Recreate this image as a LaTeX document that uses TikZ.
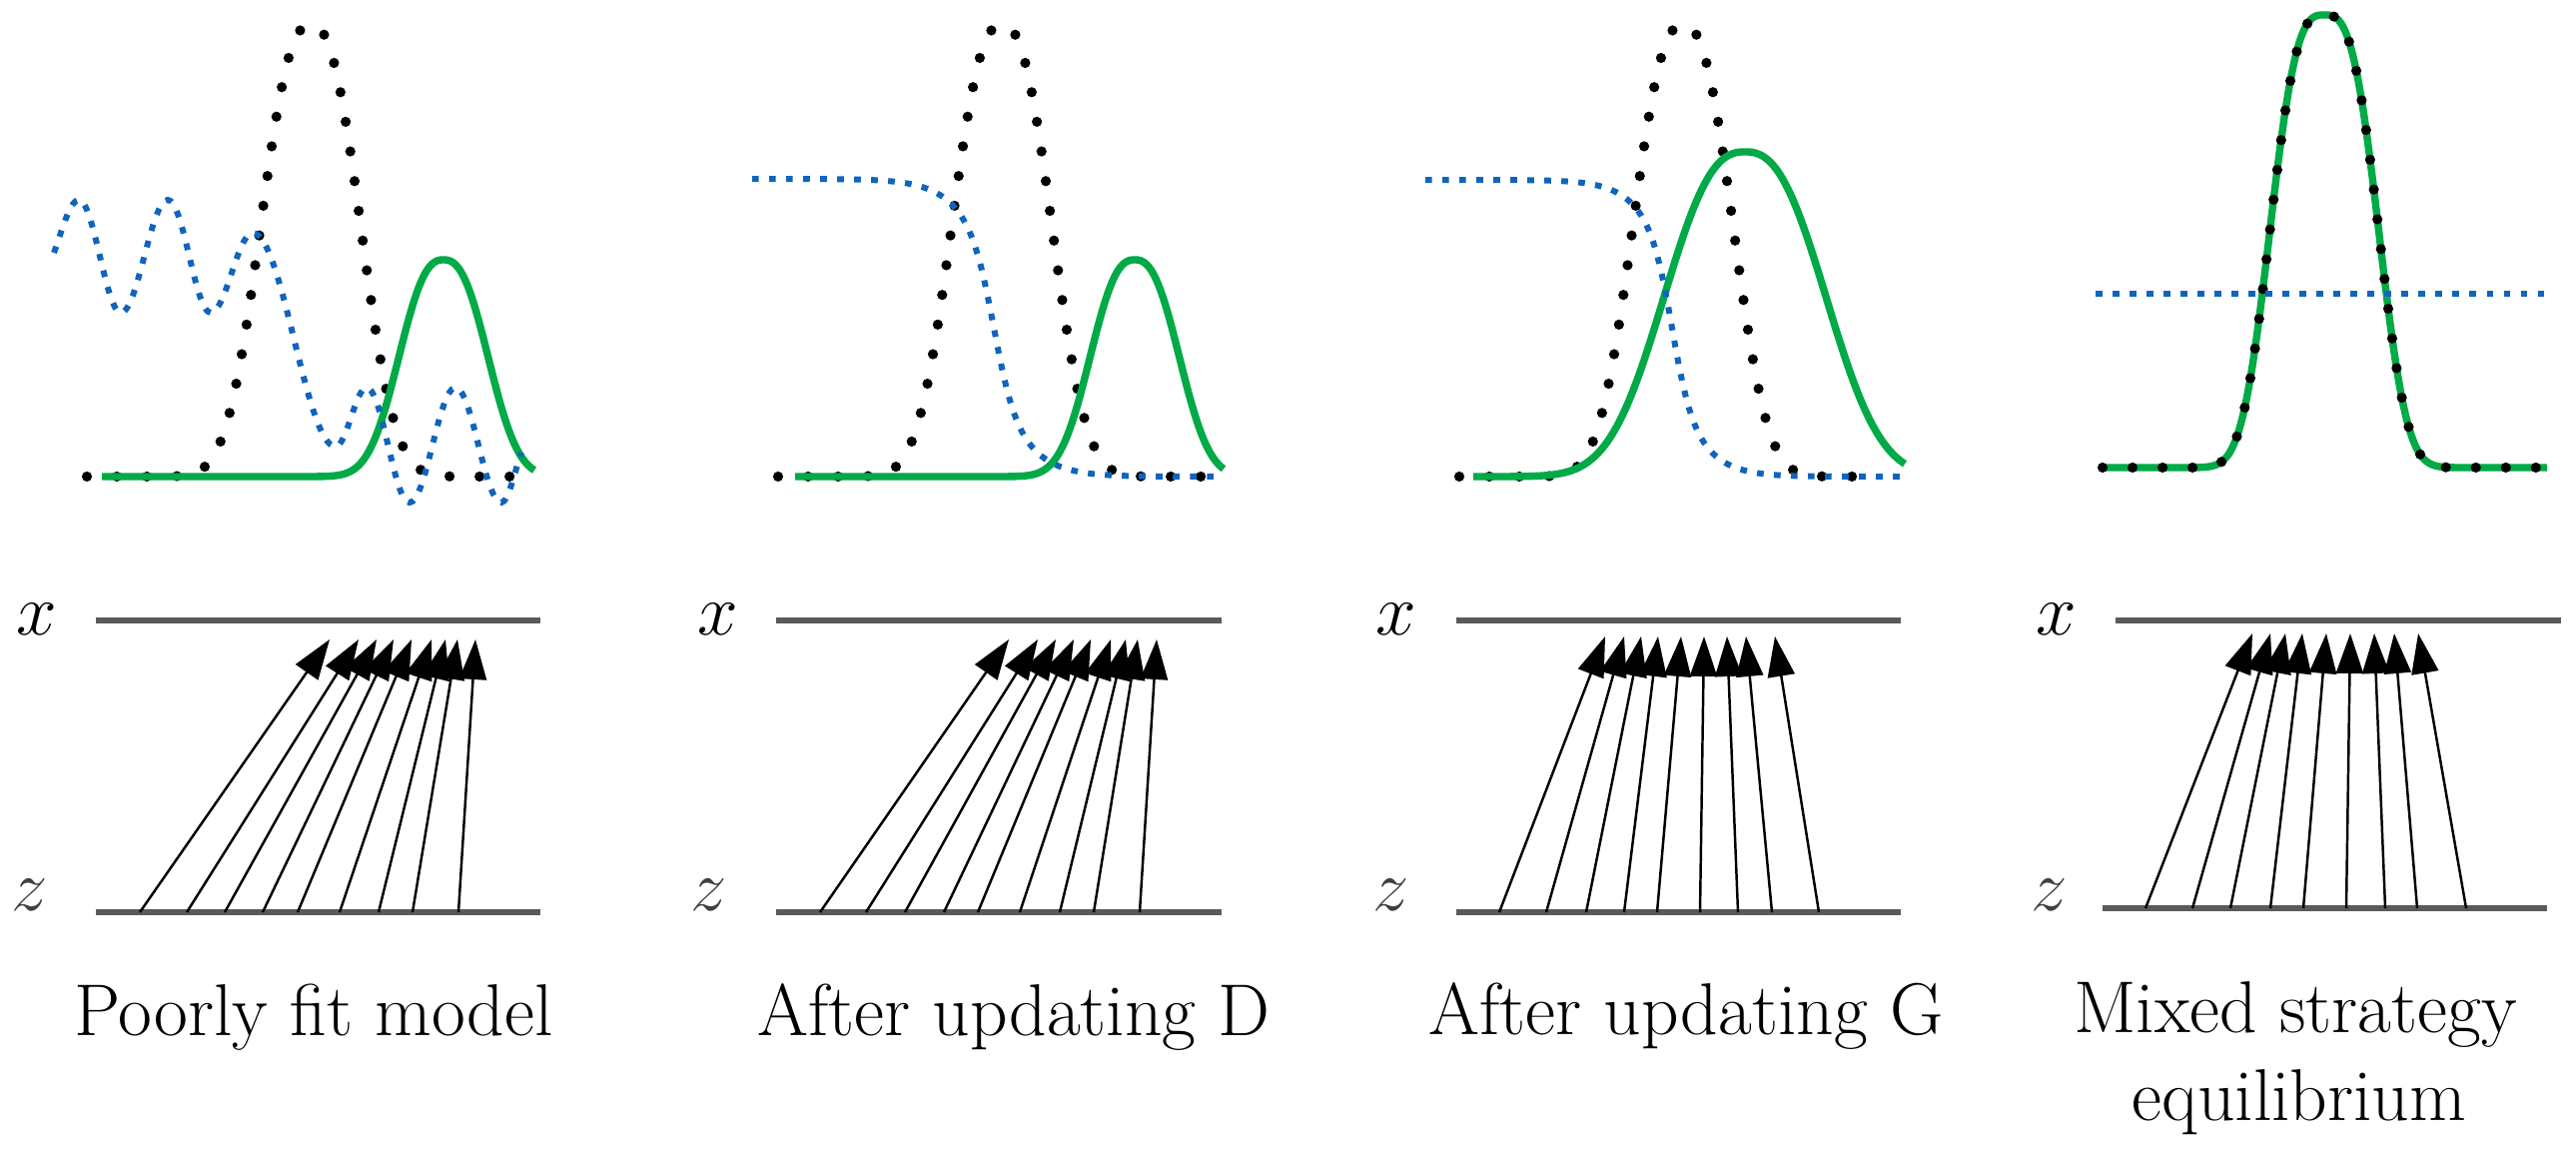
\documentclass[tikz,border=0pt]{standalone}
\usetikzlibrary{arrows.meta}
\definecolor{gblue}{RGB}{16,100,190}
\definecolor{ggreen}{RGB}{0,170,70}
\definecolor{axisgray}{RGB}{90,90,90}
\tikzset{
  declare function={sg(\t)=1/(1+exp(-max(min(\t,9),-9)));
                    bump(\u,\c,\s)=exp(-min(pow(abs(\u-\c)/\s,3),9));
                    bumpb(\u,\c,\s)=exp(-min(pow(abs(\u-\c)/\s,2.5),9));},
  blackdot/.style={black,line width=2.9pt,line cap=round,dash pattern=on 0pt off 8.54pt},
  bluedot/.style={gblue,line width=1.7pt,dash pattern=on 1.9pt off 2.94pt},
  greenline/.style={ggreen,line width=2.1pt},
  axisline/.style={axisgray,line width=1.6pt},
  genarrow/.style={black,line width=0.7pt,-{Triangle[length=0.4cm,width=0.27cm]}},
  lab/.style={inner sep=0pt,font=\fontsize{22}{26}\selectfont},
  caption/.style={inner sep=0pt,anchor=base,font=\fontsize{20.9}{25}\selectfont},
}
\begin{document}
\begin{tikzpicture}[x=0.01cm,y=-0.01cm]
\fill[white] (0,0) rectangle (2579,1157);
\useasboundingbox (0,0) rectangle (2579,1157);

% ---------- Panel 1 ----------
\draw[blackdot] plot[domain=87:512,samples=171] (\x,{477-452*bumpb(\x,311,62)});
\draw[greenline] plot[domain=102:535,samples=171] (\x,{477-217*bumpb(\x,444,55)});
\draw[bluedot] (54,253) .. controls +(8,-22) and +(-9,0) .. (79,200)
  .. controls +(15,0) and +(-15,0) .. (121,313)
  .. controls +(17,0) and +(-17,0) .. (168,200)
  .. controls +(16,0) and +(-16,0) .. (211,313)
  .. controls +(15,0) and +(-15,0) .. (253,233)
  .. controls +(30,0) and +(-30,0) .. (336,447)
  .. controls +(11,0) and +(-11,0) .. (367,388)
  .. controls +(16,0) and +(-16,0) .. (410,503)
  .. controls +(17,0) and +(-17,0) .. (456,388)
  .. controls +(17,0) and +(-17,0) .. (502,503)
  .. controls +(7,0) and +(-6,16) .. (522,453);

% ---------- Panel 2 ----------
\draw[blackdot] plot[domain=779:1203,samples=171] (\x,{477-452*bumpb(\x,1003,62)});
\draw[greenline] plot[domain=796:1225,samples=171] (\x,{477-217*bumpb(\x,1136,55)});
\draw[bluedot] plot[domain=753:1223,samples=161] (\x,{179+298*(0.5*sg((\x-995)/10)+0.5*sg((\x-995)/25))});

% ---------- Panel 3 ----------
\draw[blackdot] plot[domain=1461:1884,samples=171] (\x,{477-452*bumpb(\x,1685,62)});
\draw[greenline] plot[domain=1475:1907,samples=171] (\x,{477-325*bumpb(\x,1747,100)});
\draw[bluedot] plot[domain=1427:1907,samples=161] (\x,{180+297*(0.5*sg((\x-1674)/9.2)+0.5*sg((\x-1674)/23))});

% ---------- Panel 4 ----------
\draw[greenline] plot[domain=2103:2550,samples=181] (\x,{468-453*bump(\x,2327,63)});
\draw[blackdot] plot[domain=2105:2550,samples=181] (\x,{468-453*bump(\x,2327,63)});
\coordinate (b4l) at (2098,294);
\coordinate (b4r) at (2552,294);
\draw[bluedot] (b4l) -- (b4r);

% ---------- axis lines ----------
\foreach \p/\xl/\xr/\zl/\zr/\zy in {1/96/541/96/541/913, 2/777/1223/777/1223/913, 3/1458/1903/1458/1903/913, 4/2118/2564/2105/2550/909}{
  \coordinate (xl\p) at (\xl,621);
  \coordinate (xr\p) at (\xr,621);
  \coordinate (zl\p) at (\zl,\zy);
  \coordinate (zr\p) at (\zr,\zy);
  \draw[axisline] (xl\p) -- (xr\p);
  \draw[axisline] (zl\p) -- (zr\p);
}

% ---------- labels ----------
\node[lab] (lx1) at (37,620) {$x$};
\node[lab,black!75] (lz1) at (30,896) {$z$};
\node[lab] (lx2) at (719,620) {$x$};
\node[lab,black!75] (lz2) at (710,896) {$z$};
\node[lab] (lx3) at (1398,620) {$x$};
\node[lab,black!75] (lz3) at (1393,896) {$z$};
\node[lab] (lx4) at (2059,620) {$x$};
\node[lab,black!75] (lz4) at (2052,896) {$z$};

% ---------- generator mapping arrows ----------
\foreach \b/\t [count=\i] in {140/330,187/359,225/377,263/394,298/412,340/432,379/446,413/458,459/476}{
  \coordinate (ab1\i) at (\b,913); \coordinate (at1\i) at (\t,640);
  \draw[genarrow] (ab1\i) -- (at1\i);
}
\foreach \b/\t [count=\i] in {821/1010,867/1039,906/1057,945/1075,979/1092,1021/1112,1061/1127,1095/1139,1141/1158}{
  \coordinate (ab2\i) at (\b,913); \coordinate (at2\i) at (\t,640);
  \draw[genarrow] (ab2\i) -- (at2\i);
}
\foreach \b/\t [count=\i] in {1501/1607,1548/1626,1588/1643,1626/1660,1659/1683,1702/1706,1740/1729,1774/1748,1821/1777}{
  \coordinate (ab3\i) at (\b,913); \coordinate (at3\i) at (\t,637);
  \draw[genarrow] (ab3\i) -- (at3\i);
}
\foreach \b/\t [count=\i] in {2148/2255,2195/2273,2233/2288,2273/2305,2306/2329,2349/2353,2388/2377,2420/2397,2469/2421}{
  \coordinate (ab4\i) at (\b,909); \coordinate (at4\i) at (\t,634);
  \draw[genarrow] (ab4\i) -- (at4\i);
}

% ---------- captions ----------
\node[caption] (c1) at (314,1036) {Poorly fit model};
\node[caption] (c2) at (1015,1036) {After updating D};
\node[caption] (c3) at (1688,1035) {After updating G};
\node[caption] (c4a) at (2298,1033) {Mixed strategy};
\node[caption] (c4b) at (2302,1121) {equilibrium};
\end{tikzpicture}
\end{document}
